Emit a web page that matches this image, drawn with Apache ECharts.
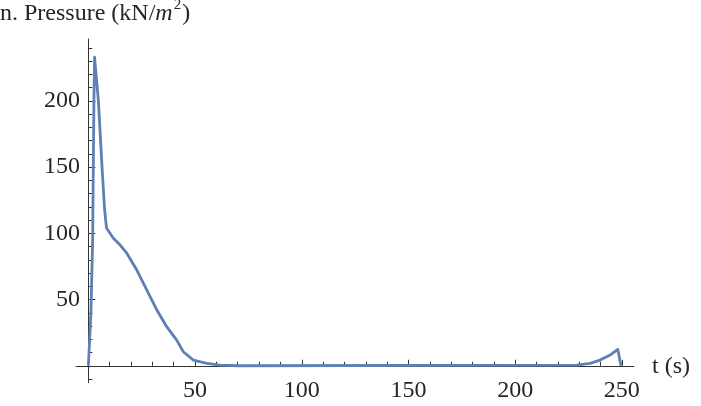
<!DOCTYPE html>
<html>
<head>
<meta charset="utf-8">
<script src="https://cdn.jsdelivr.net/npm/echarts@6/dist/echarts.min.js"></script>
<style>
html,body{margin:0;padding:0;background:#fff;}
#chart{width:701px;height:406px;}
</style>
</head>
<body>
<div id="chart"></div>
<script>
// Data
var times = [0, 1.2, 2.0, 2.6, 2.9, 3.4, 4.7, 6.4, 7.6, 8.5, 11.7, 15, 18, 22.7, 27.4, 32.1, 36.7, 41.4, 44.5, 49.2, 55.5, 61.7, 70, 228.9, 235.1, 239.8, 244.5, 248.1, 249.6];
var pressure = [0, 40, 95, 200, 233, 232, 200, 150, 118, 104, 96.3, 91, 85, 72.3, 57.2, 42.1, 29.5, 19.4, 10.6, 4.3, 1.8, 0.5, 0, 0.5, 1.8, 4.3, 8.1, 12.4, 0];

var xMajorTicks = [50, 100, 150, 200, 250];
var xMinorTicks = [10, 20, 30, 40, 60, 70, 80, 90, 110, 120, 130, 140, 160, 170, 180, 190, 210, 220, 230, 240];
var yMajorTicks = [50, 100, 150, 200];
var yMinorTicks = [-10, 10, 20, 30, 40, 60, 70, 80, 90, 110, 120, 130, 140, 160, 170, 180, 190, 210, 220, 230, 240];

var yTitle = 'n. Pressure (kN/';
var xTitle = 't (s)';

var serif = '"Liberation Serif", "Times New Roman", serif';
var axisColor = '#333';
var textColor = '#262626';

var data = times.map(function (t, i) { return [t, pressure[i]]; });

var xMin = -5.8, xMax = 255.7, yMin = -12.8, yMax = 246.8;

var chart = echarts.init(document.getElementById('chart'));
chart.setOption({
  animation: false,
  backgroundColor: '#fff',
  grid: { left: 76, right: 67, top: 39, bottom: 23.3, containLabel: false, outerBoundsMode: 'none' },
  graphic: [{
    type: 'text',
    left: 0,
    top: -2,
    style: {
      text: '{a|' + yTitle + '}{b|m}{c|2}{a|)}',
      rich: {
        a: { fontFamily: serif, fontSize: 24, fill: textColor, verticalAlign: 'bottom', lineHeight: 28 },
        b: { fontFamily: serif, fontSize: 24, fontStyle: 'italic', fill: textColor, verticalAlign: 'bottom', lineHeight: 28 },
        c: { fontFamily: serif, fontSize: 15, fill: textColor, verticalAlign: 'top', lineHeight: 28, padding: [0, 1, 0, 1] }
      }
    }
  }, {
    type: 'text',
    left: 652,
    top: 355,
    style: { text: xTitle, fontFamily: serif, fontSize: 24, fill: textColor }
  }],
  xAxis: [{
    type: 'value', min: xMin, max: xMax,
    axisLine: { show: true, onZero: true, lineStyle: { color: axisColor, width: 1 } },
    axisTick: { show: true, inside: true, length: 6, customValues: xMajorTicks, lineStyle: { color: axisColor } },
    axisLabel: { show: true, customValues: xMajorTicks, margin: -4, fontFamily: serif, fontSize: 24, color: textColor },
    splitLine: { show: false }
  }, {
    type: 'value', min: xMin, max: xMax, position: 'bottom',
    axisLine: { show: true, onZero: true, lineStyle: { color: axisColor, opacity: 0 } },
    axisTick: { show: true, inside: true, length: 4, customValues: xMinorTicks, lineStyle: { color: axisColor } },
    axisLabel: { show: false },
    splitLine: { show: false }
  }],
  yAxis: [{
    type: 'value', min: yMin, max: yMax,
    axisLine: { show: true, onZero: true, lineStyle: { color: axisColor, width: 1 } },
    axisTick: { show: true, inside: true, length: 7, customValues: yMajorTicks, lineStyle: { color: axisColor } },
    axisLabel: { show: true, customValues: yMajorTicks, margin: -4, fontFamily: serif, fontSize: 24, color: textColor },
    splitLine: { show: false }
  }, {
    type: 'value', min: yMin, max: yMax, position: 'left',
    axisLine: { show: true, onZero: true, lineStyle: { color: axisColor, opacity: 0 } },
    axisTick: { show: true, inside: true, length: 4, customValues: yMinorTicks, lineStyle: { color: axisColor } },
    axisLabel: { show: false },
    splitLine: { show: false }
  }],
  series: [{
    type: 'line',
    xAxisIndex: 0, yAxisIndex: 0,
    data: data,
    showSymbol: false,
    smooth: false,
    lineStyle: { color: '#5E81B5', width: 2.8, join: 'round' },
    itemStyle: { color: '#5E81B5' }
  }]
});
</script>
</body>
</html>
